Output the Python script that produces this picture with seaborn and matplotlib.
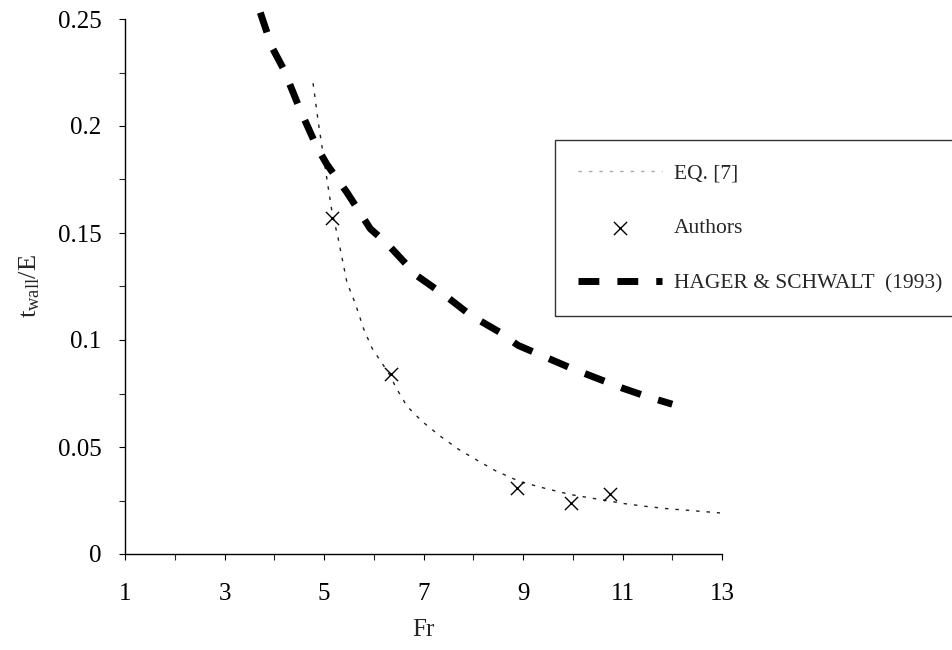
import matplotlib
matplotlib.use("Agg")
import matplotlib.pyplot as plt
import seaborn as sns
import pandas as pd
from matplotlib.ticker import MultipleLocator

# ---- data ----
eq7_fr = [4.78, 4.89, 5.06, 5.16, 5.28, 5.46, 5.63, 5.80, 5.97, 6.17, 6.34, 6.44, 6.67,
          6.97, 7.34, 7.70, 8.10, 8.44, 8.94, 9.44, 9.95, 10.41, 11.02, 11.41, 11.89, 12.43, 12.96]
eq7_y = [0.220, 0.201, 0.175, 0.160, 0.148, 0.127, 0.117, 0.105, 0.096, 0.089, 0.083, 0.078, 0.069,
         0.062, 0.055, 0.049, 0.0435, 0.039, 0.0338, 0.0307, 0.0278, 0.0260, 0.0236, 0.0224, 0.0212, 0.0202, 0.0192]

authors_fr = [5.16, 6.34, 8.88, 9.97, 10.75]
authors_y = [0.157, 0.084, 0.031, 0.024, 0.028]

hager_fr = [3.72, 3.95, 4.19, 4.52, 4.86, 5.06, 5.46, 5.93, 6.27, 6.87, 7.48, 7.95, 8.52,
            8.90, 9.50, 10.00, 10.50, 11.00, 11.50, 12.00]
hager_y = [0.253, 0.237, 0.2265, 0.2076, 0.190, 0.182, 0.169, 0.152, 0.145, 0.130, 0.120, 0.1115, 0.1038,
           0.0975, 0.0915, 0.0865, 0.0820, 0.0775, 0.0735, 0.0700]

x_ticks = [1, 3, 5, 7, 9, 11, 13]
y_ticks = [0, 0.05, 0.1, 0.15, 0.2, 0.25]
y_tick_labels = ["0", "0.05", "0.1", "0.15", "0.2", "0.25"]

# ---- style ----
sns.set_style("ticks")
plt.rcParams["font.family"] = ["Liberation Serif", "DejaVu Serif"]
plt.rcParams["mathtext.fontset"] = "custom"
plt.rcParams["mathtext.rm"] = "Liberation Serif"
plt.rcParams["mathtext.it"] = "Liberation Serif:italic"

fig = plt.figure(figsize=(9.53, 6.5), dpi=100)
ax = fig.add_axes([125 / 953, 1 - 554 / 650, (722 - 125) / 953, (554 - 19) / 650])

eq_df = pd.DataFrame({"Fr": eq7_fr, "y": eq7_y})
au_df = pd.DataFrame({"Fr": authors_fr, "y": authors_y})
ha_df = pd.DataFrame({"Fr": hager_fr, "y": hager_y})

sns.lineplot(data=eq_df, x="Fr", y="y", ax=ax, color="#222222", linewidth=1.0,
             label="EQ. [7]", sort=False)
ax.lines[-1].set_dashes((2.5, 5))
sns.scatterplot(data=au_df, x="Fr", y="y", ax=ax, marker="x", color="black", s=90,
                linewidth=1.0, label="Authors", zorder=5)
sns.lineplot(data=ha_df, x="Fr", y="y", ax=ax, color="black", linewidth=5.0,
             label="HAGER & SCHWALT  (1993)", sort=False)
ax.lines[-1].set_dashes((3.0, 2.6))
ax.lines[-1].set_clip_on(False)

ax.set_xlim(1, 13)
ax.set_ylim(0, 0.25)
ax.set_xticks(x_ticks)
ax.set_xticklabels([str(t) for t in x_ticks])
ax.set_yticks(y_ticks)
ax.set_yticklabels(y_tick_labels)
ax.xaxis.set_minor_locator(MultipleLocator(1))
ax.yaxis.set_minor_locator(MultipleLocator(0.025))
ax.tick_params(axis="both", which="major", labelsize=18, length=4, width=0.8,
               direction="out", colors="black")
ax.tick_params(axis="both", which="minor", length=4, width=0.8, direction="out")
ax.tick_params(axis="x", which="major", pad=17)
ax.tick_params(axis="y", which="major", pad=13)
for s in ["top", "right"]:
    ax.spines[s].set_visible(False)
for s in ["left", "bottom"]:
    ax.spines[s].set_linewidth(1.0)
    ax.spines[s].set_color("black")

ax.set_xlabel("Fr", fontsize=18, labelpad=10)
ax.set_ylabel(r"$\mathregular{t_{wall}/E}$", fontsize=19, labelpad=11)

# legend
h, l = ax.get_legend_handles_labels()
leg = ax.legend(h, l, loc="upper left", bbox_to_anchor=(555 / 953, 1 - 140 / 650),
                bbox_transform=fig.transFigure, fontsize=15.5, frameon=True,
                handlelength=3.9, labelspacing=1.62, borderpad=1.08, handletextpad=0.55,
                fancybox=False, borderaxespad=0)
leg.get_frame().set_edgecolor("black")
leg.get_frame().set_linewidth(1.0)
leg.legend_handles[0].set_color("#aaaaaa")

fig.savefig("out.png", dpi=100)
